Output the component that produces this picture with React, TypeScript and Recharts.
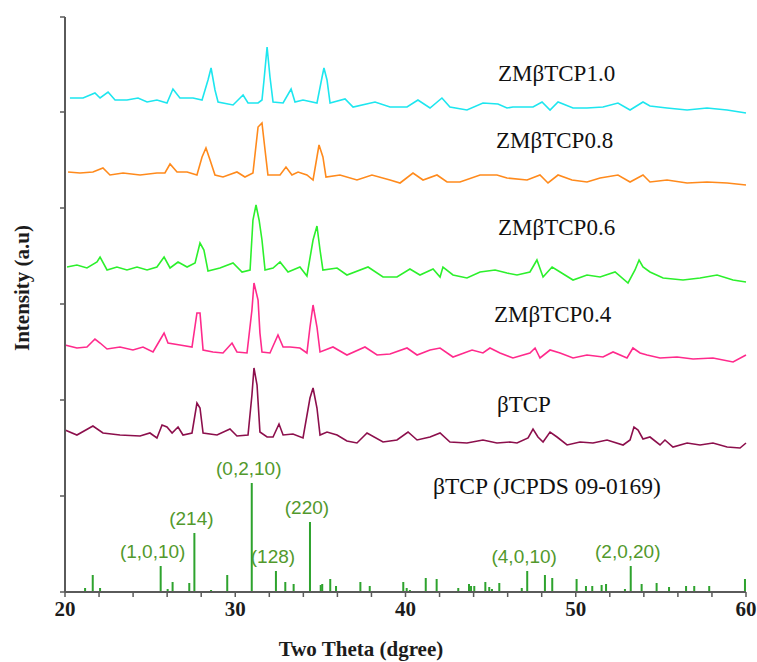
import React from 'react';
import { ComposedChart, Line, Bar, XAxis, YAxis, LabelList } from 'recharts';

type Pt = [number, number];

// traces: [2theta, intensity (a.u., stacked offset included)]
const ZM10: Pt[] = [
	[20.29, 494], [21.06, 494], [21.76, 499], [22.06, 494], [22.53, 500], [22.94, 492], [23.64, 492],
	[24.29, 494], [24.82, 490], [25.4, 492], [25.99, 489], [26.34, 503], [26.75, 494], [27.52, 494],
	[28.05, 492], [28.4, 512], [28.58, 524], [28.81, 502], [28.99, 490], [29.87, 487], [30.46, 497],
	[30.75, 489], [31.34, 489], [31.57, 492], [31.69, 512], [31.87, 545], [32.04, 515], [32.22, 490],
	[32.81, 489], [33.28, 503], [33.51, 490], [33.98, 492], [34.8, 489], [35.1, 515], [35.21, 524],
	[35.39, 512], [35.57, 489], [36.45, 493], [36.92, 485], [38.21, 490], [39.09, 485], [40.09, 485],
	[40.73, 492], [41.44, 484], [42.14, 494], [42.61, 485], [43.61, 482], [44.55, 489], [45.43, 488],
	[45.96, 484], [46.31, 485], [47.49, 485], [48.02, 490], [48.49, 482], [48.96, 490], [49.84, 484],
	[50.66, 484], [51.6, 485], [52.48, 489], [53.19, 482], [53.95, 490], [54.36, 486], [55.36, 484],
	[56.54, 482], [57.71, 484], [58.89, 482], [60, 479],
];

const ZM08: Pt[] = [
	[20.18, 420], [20.88, 419], [21.64, 420], [22.23, 424], [22.64, 417], [23.41, 419], [24.41, 417],
	[25.4, 419], [25.87, 419], [26.17, 428], [26.58, 420], [27.17, 420], [27.75, 417], [28.05, 435],
	[28.28, 444], [28.52, 432], [28.81, 417], [29.28, 415], [30.1, 420], [30.57, 415], [31.04, 419],
	[31.34, 465], [31.57, 469], [31.75, 442], [31.92, 417], [32.63, 417], [32.98, 425], [33.33, 417],
	[33.69, 420], [34.21, 417], [34.57, 412], [34.8, 435], [34.92, 447], [35.15, 435], [35.33, 415],
	[36.15, 417], [37.15, 412], [38.03, 417], [39.09, 412], [39.68, 409], [40.44, 419], [41.03, 412],
	[41.85, 417], [42.44, 410], [43.2, 410], [44.38, 417], [45.37, 417], [45.96, 414], [47.14, 412],
	[47.9, 417], [48.37, 409], [48.96, 417], [49.78, 412], [50.66, 410], [51.43, 414], [52.48, 417],
	[53.19, 410], [53.95, 417], [54.36, 410], [55.36, 412], [56.54, 409], [57.71, 410], [58.89, 409],
	[60, 407],
];

const ZM06: Pt[] = [
	[20.12, 325], [20.7, 327], [21.29, 324], [21.88, 330], [22.06, 335], [22.47, 322], [23.05, 325],
	[23.64, 322], [24.23, 325], [24.82, 322], [25.4, 325], [25.82, 335], [26.17, 324], [26.64, 330],
	[27.17, 325], [27.64, 329], [27.93, 349], [28.16, 342], [28.4, 321], [29.1, 324], [29.87, 329],
	[30.4, 320], [30.87, 322], [31.04, 372], [31.22, 387], [31.4, 372], [31.57, 352], [31.75, 322],
	[32.22, 324], [32.63, 330], [33.1, 320], [33.8, 325], [34.21, 316], [34.57, 352], [34.8, 366],
	[34.98, 342], [35.15, 322], [35.98, 324], [36.56, 317], [37.8, 325], [38.68, 315], [39.5, 315],
	[40.26, 323], [40.85, 317], [41.62, 323], [42.03, 315], [42.2, 325], [42.79, 317], [43.61, 314],
	[44.38, 320], [45.26, 322], [45.96, 319], [46.55, 317], [47.31, 320], [47.72, 332], [48.08, 315],
	[48.61, 325], [49.08, 320], [49.84, 312], [50.66, 317], [51.43, 315], [52.31, 320], [53.07, 309],
	[53.48, 322], [53.72, 332], [53.95, 325], [54.36, 320], [55.13, 314], [56.3, 312], [57.3, 314],
	[58.3, 317], [59.24, 312], [60, 310],
];

const ZM04: Pt[] = [
	[20, 247], [20.7, 244], [21.29, 245], [21.76, 253], [22.06, 249], [22.47, 243], [23.23, 245],
	[23.99, 242], [24.58, 245], [25.17, 240], [25.58, 252], [25.82, 259], [26.05, 249], [26.75, 247],
	[27.46, 245], [27.75, 279], [27.93, 279], [28.11, 242], [28.69, 240], [29.28, 239], [29.81, 249],
	[30.1, 240], [30.69, 239], [30.98, 282], [31.1, 309], [31.34, 292], [31.45, 259], [31.57, 240],
	[32.04, 239], [32.51, 257], [32.81, 245], [33.22, 245], [33.8, 244], [34.21, 239], [34.39, 265],
	[34.57, 287], [34.8, 265], [34.98, 240], [35.74, 245], [36.56, 237], [37.62, 245], [38.33, 237],
	[39.09, 238], [40.09, 244], [40.68, 237], [41.44, 242], [42.03, 244], [42.79, 235], [43.91, 242],
	[44.55, 239], [44.96, 244], [45.55, 239], [46.31, 234], [47.31, 239], [47.61, 244], [47.9, 234],
	[48.49, 242], [49.08, 239], [49.84, 234], [50.66, 237], [51.6, 235], [52.19, 240], [53.01, 234],
	[53.36, 244], [53.78, 239], [54.19, 237], [54.95, 234], [55.95, 235], [56.89, 233], [58.06, 234],
	[59.24, 230], [60, 237],
];

const BTCP: Pt[] = [
	[20, 162], [20.7, 157], [21.64, 166], [22.23, 159], [23.23, 157], [24.41, 156], [24.99, 159],
	[25.4, 154], [25.7, 167], [25.99, 165], [26.29, 159], [26.64, 165], [26.93, 157], [27.46, 159],
	[27.75, 189], [27.93, 184], [28.11, 159], [28.93, 157], [29.69, 163], [30.1, 156], [30.75, 157],
	[30.98, 197], [31.1, 224], [31.28, 207], [31.45, 160], [31.87, 155], [32.22, 155], [32.57, 168],
	[32.81, 157], [33.39, 158], [33.98, 154], [34.39, 194], [34.57, 204], [34.8, 184], [34.98, 157],
	[35.39, 160], [35.98, 157], [36.56, 151], [37.15, 149], [37.74, 159], [38.68, 150], [39.5, 152],
	[40.15, 160], [40.68, 152], [41.44, 155], [42.03, 159], [42.61, 150], [43.61, 149], [44.55, 152],
	[45.37, 149], [46.14, 150], [46.55, 149], [47.2, 154], [47.49, 163], [47.78, 155], [48.08, 150],
	[48.49, 160], [48.9, 155], [49.49, 147], [50.25, 150], [51.01, 149], [51.84, 152], [52.78, 147],
	[53.19, 152], [53.42, 165], [53.66, 162], [53.95, 153], [54.36, 155], [54.95, 147], [55.24, 152],
	[55.71, 145], [56.54, 149], [57.3, 147], [58.06, 149], [58.89, 145], [59.65, 144], [60, 149],
];

// JCPDS 09-0169 reference sticks: [2theta, relative height]
const STICKS: Pt[] = [
	[21.18, 4], [21.63, 17], [22.06, 4], [25.62, 26], [26.03, 3], [26.32, 10], [27.3, 9], [27.6, 59],
	[28.58, 2], [29.53, 17], [30.97, 109], [32.39, 21], [32.94, 10], [33.43, 8], [34.39, 70], [35.02, 7],
	[35.11, 8], [35.58, 13], [35.92, 6], [37.35, 10], [37.9, 6], [39.87, 10], [40.07, 4], [40.26, 2],
	[41.19, 14], [41.83, 13], [43.1, 4], [43.73, 8], [43.85, 6], [44.04, 6], [44.69, 10], [44.92, 5],
	[45.08, 3], [45.51, 9], [46.83, 4], [47.15, 21], [48.19, 17], [48.62, 14], [50.05, 13], [50.6, 6],
	[50.97, 6], [51.52, 7], [51.78, 8], [52.89, 3], [53.23, 26], [53.87, 8], [54.75, 9], [55.48, 5],
	[56.48, 6], [56.96, 6], [57.84, 6], [59.94, 13],
];

const HKL: { at: number; text: string }[] = [
	{ at: 25.62, text: '(1,0,10)' },
	{ at: 27.6, text: '(214)' },
	{ at: 30.97, text: '(0,2,10)' },
	{ at: 32.39, text: '(128)' },
	{ at: 34.39, text: '(220)' },
	{ at: 47.15, text: '(4,0,10)' },
	{ at: 53.23, text: '(2,0,20)' },
];

const X_TICKS = [20, 22, 24, 26, 28, 30, 32, 34, 36, 38, 40, 42, 44, 46, 48, 50, 52, 54, 56, 58, 60];
const Y_TICKS = [0, 96, 192, 288, 384, 480, 575];

const SERIES = [
	{ name: 'ZMβTCP1.0', pts: ZM10, color: '#1de6ef' },
	{ name: 'ZMβTCP0.8', pts: ZM08, color: '#ff8a1c' },
	{ name: 'ZMβTCP0.6', pts: ZM06, color: '#2cf02c' },
	{ name: 'ZMβTCP0.4', pts: ZM04, color: '#ff2a8c' },
	{ name: 'βTCP', pts: BTCP, color: '#8c0f4c' },
];

// where the sample names sit on the page
const NAME_POS: Record<string, [number, number]> = {
	'ZMβTCP1.0': [498, 81],
	'ZMβTCP0.8': [496, 148],
	'ZMβTCP0.6': [498, 235],
	'ZMβTCP0.4': [494, 322],
	βTCP: [497, 412],
};

const SERIF = '"Liberation Serif", "Times New Roman", serif';
const SANS = '"Liberation Sans", Arial, sans-serif';
const AXIS = '#5a5a5a';
const STICK = '#2ea32e';

const stickRows = STICKS.map(([x, y]) => ({
	x,
	y,
	hkl: HKL.find((h) => h.at === x)?.text ?? '',
}));

function XTick({ x, y, payload }: any) {
	if (payload.value % 10 !== 0) return <g />;
	return (
		<text x={x} y={y + 17} textAnchor="middle" fontFamily={SERIF} fontWeight="bold" fontSize={21} fill="#1c1c1c">
			{payload.value}
		</text>
	);
}

function HklLabel(props: any) {
	const { x, y, width, value } = props;
	if (!value) return null;
	const dx = value === '(1,0,10)' ? -8 : -3;
	return (
		<text x={x + width / 2 + dx} y={y - 8} textAnchor="middle" fontFamily={SANS} fontSize={19} fill="#52992c">
			{value}
		</text>
	);
}

function StickShape(props: any) {
	const { x, y, width, height } = props;
	return <rect x={x + width / 2 - 1} y={y} width={2} height={height} fill={STICK} />;
}

export default function App() {
	return (
		<div style={{ width: 741, height: 646 }}>
			<div style={{ position: 'fixed', left: 0, top: 0, width: 757, height: 662, background: '#fff' }}>
				<ComposedChart width={757} height={662} data={stickRows} margin={{ top: 17, right: 11, left: 0, bottom: 0 }}>
					<XAxis
						dataKey="x"
						type="number"
						domain={[20, 60]}
						ticks={X_TICKS}
						tick={<XTick />}
						tickSize={5}
						height={70}
						axisLine={{ stroke: AXIS, strokeWidth: 2 }}
						tickLine={{ stroke: AXIS, strokeWidth: 1.5 }}
					/>
					<XAxis
						xAxisId="top"
						orientation="top"
						type="number"
						domain={[20, 60]}
						height={0}
						tick={false}
						tickLine={false}
						axisLine={{ stroke: '#777', strokeWidth: 1.2 }}
					/>
					<YAxis
						type="number"
						domain={[0, 575]}
						ticks={Y_TICKS}
						width={65}
						tick={() => <g />}
						tickSize={5}
						axisLine={{ stroke: AXIS, strokeWidth: 2 }}
						tickLine={{ stroke: AXIS, strokeWidth: 1.5 }}
					/>
					<YAxis
						yAxisId="right"
						orientation="right"
						type="number"
						domain={[0, 575]}
						width={0}
						tick={false}
						tickLine={false}
						axisLine={{ stroke: '#777', strokeWidth: 1.2 }}
					/>
					<Bar dataKey="y" fill={STICK} barSize={2} shape={<StickShape />} isAnimationActive={false}>
						<LabelList dataKey="hkl" content={<HklLabel />} />
					</Bar>
					{SERIES.map((s) => (
						<Line
							key={s.name}
							data={s.pts.map(([x, y]) => ({ x, y }))}
							dataKey="y"
							type="linear"
							stroke={s.color}
							strokeWidth={1.6}
							dot={false}
							isAnimationActive={false}
						/>
					))}
				</ComposedChart>
				<svg width={757} height={662} style={{ position: 'absolute', left: 0, top: 0, pointerEvents: 'none' }}>
					{SERIES.map((s) => (
						<text key={s.name} x={NAME_POS[s.name][0]} y={NAME_POS[s.name][1]} fontFamily={SERIF} fontSize={23} fill="#111">
							{s.name}
						</text>
					))}
					<text x={433} y={494} fontFamily={SERIF} fontSize={23.5} fill="#111">
						βTCP (JCPDS 09-0169)
					</text>
					<text
						x={22}
						y={288}
						transform="rotate(-90 22 288)"
						textAnchor="middle"
						dominantBaseline="central"
						fontFamily={SERIF}
						fontWeight="bold"
						fontSize={21}
						fill="#1c1c1c"
					>
						Intensity (a.u)
					</text>
					<text x={361} y={656} textAnchor="middle" fontFamily={SERIF} fontWeight="bold" fontSize={21} fill="#1c1c1c">
						Two Theta (dgree)
					</text>
				</svg>
			</div>
		</div>
	);
}
